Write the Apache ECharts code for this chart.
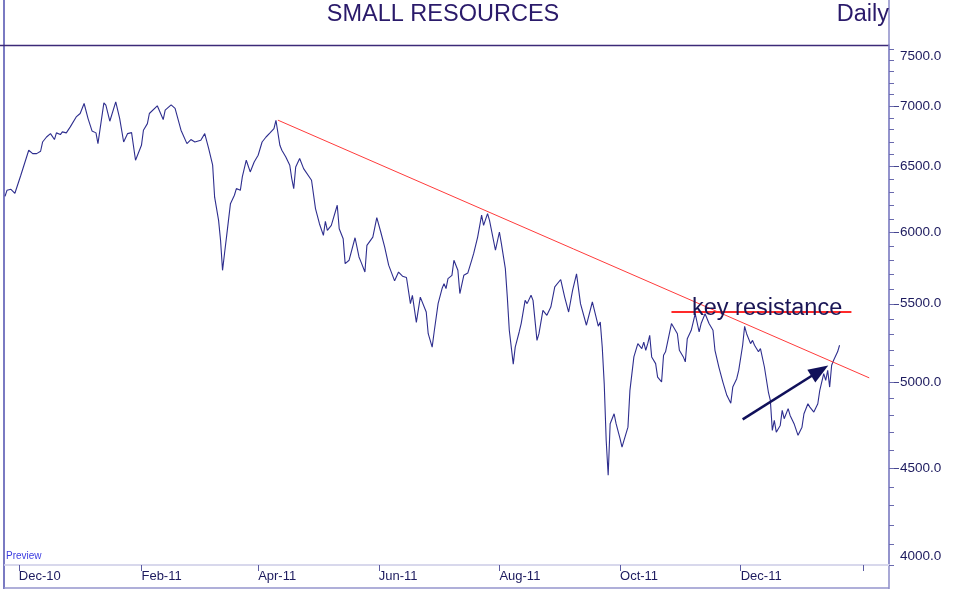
<!DOCTYPE html>
<html>
<head>
<meta charset="utf-8">
<title>SMALL RESOURCES</title>
<script src="https://cdn.jsdelivr.net/npm/echarts@6/dist/echarts.min.js"></script>
<style>
  html, body { margin: 0; padding: 0; background: #fff; }
  #chart { width: 956px; height: 592px; }
</style>
</head>
<body>
<div id="chart"></div>
<script>
// daily closes
var dates = [
  '2010-11-24','2010-11-25','2010-11-27','2010-11-29','2010-11-30','2010-12-02','2010-12-03','2010-12-06','2010-12-08','2010-12-10',
  '2010-12-12','2010-12-13','2010-12-15','2010-12-17','2010-12-19','2010-12-20','2010-12-22','2010-12-23','2010-12-25','2010-12-27',
  '2010-12-30','2011-01-01','2011-01-03','2011-01-05','2011-01-07','2011-01-09','2011-01-10','2011-01-13','2011-01-14','2011-01-16',
  '2011-01-19','2011-01-21','2011-01-23','2011-01-25','2011-01-27','2011-01-29','2011-01-30','2011-02-01','2011-02-02','2011-02-04',
  '2011-02-05','2011-02-09','2011-02-12','2011-02-13','2011-02-16','2011-02-18','2011-02-21','2011-02-24','2011-02-26','2011-02-28',
  '2011-03-03','2011-03-05','2011-03-07','2011-03-09','2011-03-10','2011-03-12','2011-03-13','2011-03-14','2011-03-15','2011-03-16',
  '2011-03-17','2011-03-18','2011-03-20','2011-03-21','2011-03-23','2011-03-24','2011-03-26','2011-03-28','2011-03-30','2011-04-01',
  '2011-04-03','2011-04-05','2011-04-07','2011-04-08','2011-04-09','2011-04-10','2011-04-12','2011-04-13','2011-04-15','2011-04-17',
  '2011-04-18','2011-04-19','2011-04-20','2011-04-22','2011-04-24','2011-04-28','2011-04-30','2011-05-02','2011-05-04','2011-05-05',
  '2011-05-06','2011-05-08','2011-05-09','2011-05-11','2011-05-12','2011-05-14','2011-05-15','2011-05-17','2011-05-20','2011-05-22',
  '2011-05-23','2011-05-25','2011-05-26','2011-05-29','2011-05-31','2011-06-01','2011-06-02','2011-06-04','2011-06-06','2011-06-09',
  '2011-06-11','2011-06-13','2011-06-15','2011-06-17','2011-06-18','2011-06-20','2011-06-22','2011-06-25','2011-06-26','2011-06-28',
  '2011-06-29','2011-07-01','2011-07-03','2011-07-04','2011-07-05','2011-07-06','2011-07-08','2011-07-09','2011-07-11','2011-07-12',
  '2011-07-14','2011-07-16','2011-07-18','2011-07-19','2011-07-21','2011-07-23','2011-07-24','2011-07-26','2011-07-27','2011-07-30',
  '2011-08-01','2011-08-02','2011-08-04','2011-08-05','2011-08-06','2011-08-08','2011-08-09','2011-08-11','2011-08-12','2011-08-14',
  '2011-08-15','2011-08-17','2011-08-18','2011-08-20','2011-08-21','2011-08-23','2011-08-25','2011-08-27','2011-08-29','2011-08-30',
  '2011-09-01','2011-09-03','2011-09-05','2011-09-07','2011-09-09','2011-09-11','2011-09-12','2011-09-14','2011-09-17','2011-09-20',
  '2011-09-21','2011-09-22','2011-09-23','2011-09-24','2011-09-25','2011-09-26','2011-09-28','2011-09-29','2011-09-30','2011-10-01',
  '2011-10-02','2011-10-03','2011-10-05','2011-10-06','2011-10-08','2011-10-10','2011-10-12','2011-10-13','2011-10-14','2011-10-15',
  '2011-10-16','2011-10-17','2011-10-19','2011-10-20','2011-10-22','2011-10-23','2011-10-24','2011-10-25','2011-10-27','2011-10-28',
  '2011-10-30','2011-10-31','2011-11-02','2011-11-03','2011-11-04','2011-11-06','2011-11-07','2011-11-08','2011-11-10','2011-11-11',
  '2011-11-13','2011-11-15','2011-11-17','2011-11-18','2011-11-20','2011-11-22','2011-11-24','2011-11-26','2011-11-27','2011-11-29',
  '2011-11-30','2011-12-02','2011-12-03','2011-12-04','2011-12-06','2011-12-07','2011-12-08','2011-12-10','2011-12-11','2011-12-13',
  '2011-12-15','2011-12-16','2011-12-17','2011-12-18','2011-12-19','2011-12-21','2011-12-22','2011-12-23','2011-12-25','2011-12-26',
  '2011-12-28','2011-12-30','2012-01-01','2012-01-02','2012-01-04','2012-01-05','2012-01-07','2012-01-09','2012-01-10','2012-01-12',
  '2012-01-13','2012-01-14','2012-01-15','2012-01-16','2012-01-17','2012-01-19','2012-01-20'
];
var closes = [
  6270,6316,6324,6293,6287,6433,6446,6632,6605,6605,
  6624,6699,6740,6768,6719,6774,6760,6782,6774,6824,
  6907,6936,7021,6893,6790,6774,6686,7026,7007,6871,
  7035,6893,6699,6768,6776,6552,6552,6672,6796,6851,
  6936,7001,6885,6964,7009,6979,6796,6686,6719,6699,
  6713,6768,6646,6512,6263,6089,5942,5729,5848,5966,
  5954,6214,6278,6329,6316,6420,6552,6459,6538,6592,
  6699,6740,6774,6768,6810,6879,6672,6632,6578,6512,
  6407,6329,6498,6566,6485,6394,6177,6064,5978,6082,
  6015,6052,6064,6202,6027,5954,5776,5800,5961,5823,
  5788,5717,5906,5966,6109,6102,6003,5894,5765,5656,
  5717,5688,5679,5501,5557,5377,5545,5445,5303,5217,
  5314,5501,5603,5637,5603,5671,5694,5800,5729,5569,
  5694,5710,5800,5848,5966,6127,6052,6139,6089,5871,
  6003,5918,5741,5545,5325,5110,5217,5314,5369,5523,
  5501,5557,5523,5260,5303,5456,5423,5478,5614,5626,
  5665,5545,5445,5591,5704,5501,5489,5358,5512,5352,
  5379,5218,4990,4656,4462,4752,4810,4752,4748,4666,
  4618,4656,4732,4949,5155,5239,5207,5249,5197,5239,
  5292,5155,5113,5030,5000,5166,5187,5197,5369,5379,
  5303,5197,5155,5124,5271,5325,5379,5434,5314,5369,
  5434,5369,5325,5197,5090,4999,4919,4872,4969,5020,
  5071,5229,5351,5303,5239,5260,5229,5187,5208,5092,
  4939,4889,4713,4771,4703,4742,4830,4781,4840,4800,
  4752,4685,4732,4810,4869,4849,4820,4869,4949,5051,
  5010,5071,4969,5103,5134,5187,5229
];

// annotations
var trendDates = ['2011-04-11', '2012-02-04'];
var trendValues = [6880, 5025];
var resistDates = ['2011-10-27', '2012-01-26'];
var resistValue = 5450;
var arrowDates = ['2011-12-02', '2012-01-10'];
var arrowValues = [4777, 5069];

// axes
var yMin = 4000, yMax = 7540;
var yLabels = [4000, 4500, 5000, 5500, 6000, 6500, 7000, 7500];
var yMinor = [];
for (var t = 4000; t <= 7500; t += 100) yMinor.push(t);
var xStart = '2010-11-24', xEnd = '2012-02-14';
var xTicks = ['2010-12-01','2011-02-01','2011-04-01','2011-06-01','2011-08-01','2011-10-01','2011-12-01','2012-02-01'];
var xLabels = ['2010-12-01','2011-02-01','2011-04-01','2011-06-01','2011-08-01','2011-10-01','2011-12-01'];
var monthNames = ['Jan','Feb','Mar','Apr','May','Jun','Jul','Aug','Sep','Oct','Nov','Dec'];

function day(s) {
  var p = s.split('-');
  return new Date(+p[0], +p[1] - 1, +p[2]).getTime();
}
var ln = Math.log;
var FONT = '"Liberation Sans", Arial, Helvetica, sans-serif';
var NAVY = '#1c1a5e';

var chart = echarts.init(document.getElementById('chart'));

var option = {
  animation: false,
  backgroundColor: '#fff',
  grid: { left: 5, right: 67, top: 45, bottom: 27, containLabel: false },
  xAxis: {
    type: 'value',
    min: day(xStart),
    max: day(xEnd),
    axisLine: { show: true, onZero: false, lineStyle: { color: '#d8d8ec', width: 2 } },
    axisTick: { show: true, customValues: xTicks.map(day), length: 6, lineStyle: { color: '#5c5ca2', width: 1 } },
    axisLabel: {
      customValues: xLabels.map(day),
      formatter: function (v) {
        var d = new Date(v);
        return monthNames[d.getMonth()] + '-' + String(d.getFullYear()).slice(2);
      },
      align: 'left',
      margin: 5,
      color: NAVY,
      fontSize: 13,
      fontFamily: FONT
    },
    splitLine: { show: false }
  },
  yAxis: [
    {
      type: 'value',
      position: 'right',
      min: ln(yMin),
      max: ln(yMax),
      axisLine: { show: true, lineStyle: { color: '#8c8cc8', width: 1.5 } },
      axisTick: { show: true, customValues: yLabels.slice(1, -1).map(ln), length: 10, lineStyle: { color: '#44448e' } },
      axisLabel: {
        customValues: yLabels.map(ln),
        formatter: function (v) {
          var n = Math.round(Math.exp(v));
          var s = n.toFixed(1);
          if (n === yLabels[yLabels.length - 1]) return '{top|' + s + '}';
          if (n === yLabels[0]) return '{bot|' + s + '}';
          return s;
        },
        rich: {
          top: { padding: [14, 0, 0, 0], color: NAVY, fontSize: 13.5, fontFamily: FONT },
          bot: { padding: [0, 0, 18, 0], color: NAVY, fontSize: 13.5, fontFamily: FONT }
        },
        margin: 11,
        color: NAVY,
        fontSize: 13.5,
        fontFamily: FONT
      },
      splitLine: { show: false }
    },
    {
      type: 'value',
      position: 'right',
      min: ln(yMin),
      max: ln(yMax),
      axisLine: { show: false },
      axisTick: { show: true, customValues: yMinor.map(ln), length: 5, lineStyle: { color: '#6a6aae' } },
      axisLabel: { show: false },
      splitLine: { show: false }
    }
  ],
  series: [{
    type: 'line',
    name: 'SMALL RESOURCES',
    showSymbol: false,
    symbol: 'none',
    lineStyle: { color: '#2e2e8e', width: 1.1 },
    data: dates.map(function (d, i) { return [day(d), ln(closes[i])]; }),
    markLine: {
      silent: true,
      symbol: 'none',
      label: { show: false },
      lineStyle: { color: '#ff3b3b', width: 1, type: 'solid' },
      data: [
        [{ coord: [day(trendDates[0]), ln(trendValues[0])] }, { coord: [day(trendDates[1]), ln(trendValues[1])] }],
        [
          { coord: [day(resistDates[0]), ln(resistValue)], lineStyle: { color: '#ff2a2a', width: 2, type: 'solid' } },
          { coord: [day(resistDates[1]), ln(resistValue)], lineStyle: { color: '#ff2a2a', width: 2, type: 'solid' } }
        ],
        [
          { coord: [day(arrowDates[0]), ln(arrowValues[0])], symbol: 'none', lineStyle: { color: '#10105a', width: 2.5 } },
          { coord: [day(arrowDates[1]), ln(arrowValues[1])], symbol: 'triangle', symbolSize: [15, 20], itemStyle: { color: '#10105a' }, lineStyle: { color: '#10105a', width: 2.5 } }
        ]
      ]
    }
  }],
  graphic: [
    { type: 'line', shape: { x1: 4, y1: 0, x2: 4, y2: 589 }, style: { stroke: '#7a7ac2', lineWidth: 2 } },
    { type: 'line', shape: { x1: 4, y1: 588, x2: 889, y2: 588 }, style: { stroke: '#9494cc', lineWidth: 1.5 } },
    { type: 'line', shape: { x1: 889, y1: 0, x2: 889, y2: 589 }, style: { stroke: '#8c8cc8', lineWidth: 1.5 } },
    { type: 'line', shape: { x1: 0, y1: 45.5, x2: 889, y2: 45.5 }, style: { stroke: '#3c2a78', lineWidth: 1.5 } },
    { type: 'text', x: 443, y: 15, style: { text: 'SMALL RESOURCES', fill: '#2a1a6a', font: '23.5px ' + FONT, textAlign: 'center', textVerticalAlign: 'middle' } },
    { type: 'text', x: 889, y: 15, style: { text: 'Daily', fill: '#2a1a6a', font: '23.5px ' + FONT, textAlign: 'right', textVerticalAlign: 'middle' } },
    { type: 'text', x: 692, y: 309, z: 10, style: { text: 'key resistance', fill: '#1a1656', font: '23.5px ' + FONT, textAlign: 'left', textVerticalAlign: 'middle' } },
    { type: 'text', x: 6, y: 556, style: { text: 'Preview', fill: '#3b3be0', font: '10px ' + FONT, textAlign: 'left', textVerticalAlign: 'middle' } }
  ]
};

chart.setOption(option);
</script>
</body>
</html>
